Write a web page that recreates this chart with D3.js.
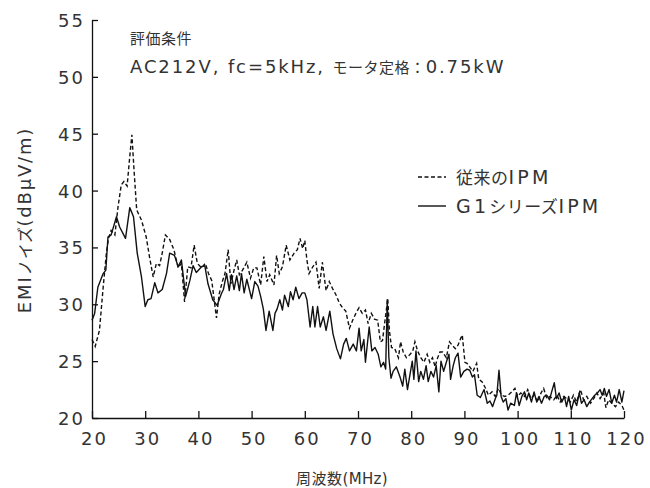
<!DOCTYPE html>
<html>
<head>
<meta charset="utf-8">
<script src="https://cdn.jsdelivr.net/npm/d3@7"></script>
<style>
  body { margin: 0; background: #fff; }
  text { font-family: "DejaVu Sans", "Noto Sans CJK JP", sans-serif; fill: #333; }
</style>
</head>
<body>
<div id="graph"></div>
<script>
// 従来のIPM (dashed)
const freqConventional = [20.0,20.6,21.4,22.1,22.7,23.1,23.6,24.3,24.9,25.5,26.0,26.6,27.1,27.5,27.9,28.4,29.3,30.2,30.8,31.5,32.1,32.7,33.2,33.8,34.6,35.4,36.2,36.8,37.4,38.0,38.6,39.2,39.8,40.6,41.3,41.9,42.5,43.4,43.9,44.5,45.0,45.6,46.1,46.7,47.2,47.7,48.3,49.1,49.8,50.4,51.0,51.7,52.3,52.9,53.4,54.2,54.7,55.2,55.8,56.5,57.2,58.0,58.6,59.1,59.6,60.0,60.4,60.8,61.5,62.1,62.7,63.3,64.0,64.6,65.2,65.9,66.5,67.1,67.7,68.4,69.0,69.6,70.2,70.8,71.4,71.9,72.5,73.1,73.7,74.2,74.6,75.0,75.6,75.9,76.3,76.9,77.6,78.0,78.5,79.1,79.8,80.3,80.7,81.2,81.8,82.4,83.0,83.5,84.0,84.5,84.9,85.4,85.9,86.6,87.2,87.7,88.3,88.8,89.3,89.6,90.1,90.5,91.0,91.6,92.3,92.7,93.3,94.0,94.5,95.2,95.8,96.4,97.0,97.6,98.2,98.9,99.5,100.0,100.6,101.3,101.9,102.5,103.1,103.8,104.4,104.9,105.5,106.1,106.8,107.4,108.0,108.6,109.3,109.9,110.5,111.1,111.8,112.4,113.0,113.7,114.3,114.9,115.5,116.2,116.6,117.1,117.7,118.4,119.0,119.6,120.0];
const emiConventional = [26.9,26.3,27.7,31.5,34.5,35.8,36.5,36.1,38.6,40.5,40.8,40.4,43.0,44.9,41.8,38.3,37.4,35.9,34.2,32.4,33.6,33.4,34.5,36.1,35.7,34.8,33.2,33.6,30.2,33.3,33.2,35.2,33.6,33.2,33.6,32.7,32.1,28.8,30.9,32.0,32.7,34.8,31.8,33.0,33.9,32.6,33.0,33.7,32.3,33.2,33.2,31.7,34.2,32.0,32.6,31.7,34.3,32.7,33.3,35.2,33.9,34.5,34.8,35.8,34.9,35.6,33.9,32.7,33.3,33.7,31.4,33.7,31.2,32.0,31.4,30.8,30.1,29.7,29.4,27.9,28.6,29.2,29.7,29.2,29.5,28.3,29.2,28.7,28.6,26.7,26.8,28.3,30.5,27.7,26.2,26.1,25.3,26.7,25.8,25.3,25.6,25.9,26.7,25.9,25.3,24.9,25.6,24.9,25.3,24.5,25.2,25.8,25.8,25.3,26.7,26.4,26.1,26.4,27.0,27.3,24.9,24.8,24.5,24.1,24.8,23.4,23.2,22.6,22.0,22.3,21.9,22.6,22.0,21.9,22.0,22.3,22.6,21.9,22.2,21.9,22.5,21.7,22.0,21.4,22.2,22.6,21.7,21.9,21.6,22.0,21.4,21.9,21.7,21.4,22.0,21.4,22.5,21.6,21.9,21.3,21.7,22.2,21.7,22.2,20.9,21.6,21.3,21.0,21.4,21.1,20.7];

// G1シリーズIPM (solid)
const freqG1 = [20.0,20.5,21.1,22.1,22.6,23.0,23.6,24.6,25.2,26.3,27.1,27.8,28.5,29.3,30.0,30.5,31.1,31.8,32.4,33.2,34.0,34.6,35.5,36.2,36.8,37.6,38.4,39.0,39.6,40.6,41.2,41.8,42.7,43.5,44.3,44.7,45.3,45.8,46.2,46.7,47.2,47.7,48.1,48.6,49.1,50.0,50.6,51.2,51.7,52.2,52.7,53.3,54.0,54.4,54.8,55.3,55.8,56.2,56.9,57.3,57.8,58.3,58.9,59.5,60.0,60.4,61.0,61.5,61.9,62.4,62.9,63.5,64.0,64.7,65.3,66.0,66.7,67.3,67.8,68.4,69.1,69.7,70.2,70.6,71.1,71.4,72.1,72.6,73.2,73.8,74.3,74.8,75.2,75.5,75.8,76.2,76.6,77.2,77.9,78.4,78.8,79.3,79.8,80.2,80.5,80.9,81.4,81.8,82.3,82.8,83.2,83.7,84.2,84.7,85.2,85.6,86.1,86.6,87.1,87.4,87.9,88.3,88.8,89.3,89.9,90.5,91.0,91.5,91.9,92.4,93.0,93.7,94.3,94.8,95.3,95.8,96.1,96.5,96.9,97.3,97.8,98.2,98.7,99.4,99.8,100.3,100.8,101.3,101.7,102.1,102.6,103.1,103.6,104.0,104.5,105.0,105.5,106.0,106.4,106.9,107.3,107.8,108.3,108.8,109.2,109.6,110.1,110.6,111.1,111.6,112.0,112.5,113.0,113.5,114.0,114.5,115.0,115.5,115.9,116.3,116.7,117.2,117.7,118.2,118.6,119.1,119.6,120.0];
const emiG1 = [28.6,29.2,31.5,32.7,33.0,35.9,36.1,37.7,36.8,35.8,38.5,37.7,34.5,32.4,29.8,30.4,30.5,31.9,31.0,31.3,32.7,34.5,34.3,33.3,33.9,30.7,32.1,33.4,32.8,33.3,33.4,31.8,30.4,29.9,30.9,31.3,32.7,31.2,32.6,31.3,32.5,31.2,32.7,31.0,32.2,30.5,32.0,31.6,30.7,29.6,27.7,29.4,27.7,29.2,29.6,30.4,29.5,30.8,29.8,31.1,30.4,31.5,30.5,31.0,31.0,30.4,28.0,29.8,28.0,29.8,28.0,28.9,27.7,29.4,27.4,26.1,25.2,26.5,27.0,25.9,26.5,25.9,27.9,25.9,26.9,24.9,28.0,25.9,26.2,25.6,24.5,24.9,24.3,30.4,25.3,23.5,24.1,24.5,23.6,22.8,24.3,22.5,23.9,25.0,23.4,25.9,23.2,24.1,23.4,24.6,23.2,24.1,23.6,24.6,22.3,25.0,24.1,24.9,25.6,23.4,24.6,25.3,25.7,23.6,24.1,24.3,24.2,23.6,23.8,22.0,21.8,22.5,21.3,21.5,21.0,21.7,22.0,24.2,21.9,21.4,21.7,20.7,21.3,21.1,22.2,21.1,21.9,22.3,21.6,22.2,21.4,22.3,21.4,21.9,21.3,21.9,22.0,21.6,22.3,23.1,21.7,22.2,21.4,21.9,21.0,21.9,20.7,21.6,21.1,22.2,21.3,21.6,21.0,21.4,21.7,22.0,22.2,22.5,22.0,22.6,21.9,22.5,21.3,22.0,21.4,22.5,21.4,22.4];

const xTicks = [20,30,40,50,60,70,80,90,100,110,120];
const yTicks = [20,25,30,35,40,45,50,55];
const legendLabels = ["従来のIPM", "G1シリーズIPM"];
const noteLines = ["評価条件", "AC212V, fc=5kHz, モータ定格：0.75kW"];

const width = 650, height = 488;
const plot = {left: 92, right: 624, top: 20, bottom: 418};

const svg = d3.select("#graph").append("svg")
  .attr("width", width).attr("height", height);

const x = d3.scaleLinear().domain([20, 120]).range([plot.left, plot.right]);
const y = d3.scaleLinear().domain([20, 55]).range([plot.bottom, plot.top]);

// Latin glyphs in the original are wide and large, kana/kanji smaller -> split into tspans
function mixedText(sel, str, latin, cjk, ls) {
  str.split(/([\u3000-\u30ff\u4e00-\u9fff\uff00-\uffef]+)/).filter(s => s.length).forEach(part => {
    const isCjk = /[\u3000-\u30ff\u4e00-\u9fff\uff00-\uffef]/.test(part);
    sel.append("tspan")
      .style("font-size", (isCjk ? cjk : latin) + "px")
      .style("letter-spacing", (isCjk ? 0.5 : ls) + "px")
      .text(part);
  });
  return sel;
}

// axes, ticks pointing inward
const yAxis = svg.append("g")
  .attr("transform", "translate(" + plot.left + ",0)")
  .call(d3.axisLeft(y).tickValues(yTicks).tickSizeInner(-6).tickSizeOuter(0).tickPadding(7));
const xAxis = svg.append("g")
  .attr("transform", "translate(0," + plot.bottom + ")")
  .call(d3.axisBottom(x).tickValues(xTicks).tickSizeInner(-7).tickSizeOuter(0));

[yAxis, xAxis].forEach(a => {
  a.select(".domain").attr("stroke", "#111").attr("stroke-width", 1.3);
  a.selectAll(".tick line").attr("stroke", "#111").attr("stroke-width", 1.3);
  a.selectAll(".tick text")
    .style("font-family", "'DejaVu Sans', sans-serif")
    .style("font-size", "18px")
    .style("letter-spacing", "2px")
    .attr("fill", "#333");
});
yAxis.selectAll(".tick text").attr("dy", "0.36em");
xAxis.selectAll(".tick text").attr("y", 27).attr("dy", 0).attr("dx", 2);

// series
const line = d3.line().x(d => x(d[0])).y(d => y(d[1]));
const conv = freqConventional.map((f, i) => [f, emiConventional[i]]);
const g1 = freqG1.map((f, i) => [f, emiG1[i]]);

svg.append("path").datum(g1)
  .attr("fill", "none").attr("stroke", "#111").attr("stroke-width", 1.4)
  .attr("stroke-linejoin", "round")
  .attr("d", line);
svg.append("path").datum(conv)
  .attr("fill", "none").attr("stroke", "#111").attr("stroke-width", 1.4)
  .attr("stroke-dasharray", "4,2.5")
  .attr("d", line);

// axis titles
mixedText(svg.append("text")
  .attr("transform", "translate(30.5,220) rotate(-90)")
  .attr("text-anchor", "middle"), "EMIノイズ(dBμV/m)", 18, 16, 1.8);
mixedText(svg.append("text")
  .attr("x", 342).attr("y", 484)
  .attr("text-anchor", "middle"), "周波数(MHz)", 15, 15, 0.3);

// conditions note
noteLines.forEach((t, i) => {
  mixedText(svg.append("text").attr("x", 130).attr("y", 44 + i * 28.5), t, 18, 15, 1.9);
});

// legend
const legend = svg.append("g");
legendLabels.forEach((lab, i) => {
  const ly = 177 + i * 29;
  legend.append("line")
    .attr("x1", 418).attr("x2", 446).attr("y1", ly).attr("y2", ly)
    .attr("stroke", "#111").attr("stroke-width", 1.4)
    .attr("stroke-dasharray", i === 0 ? "4,2.5" : null);
  mixedText(legend.append("text").attr("x", 456).attr("y", ly + 6.5), lab, 19, 17, 3.2);
});
</script>
</body>
</html>
